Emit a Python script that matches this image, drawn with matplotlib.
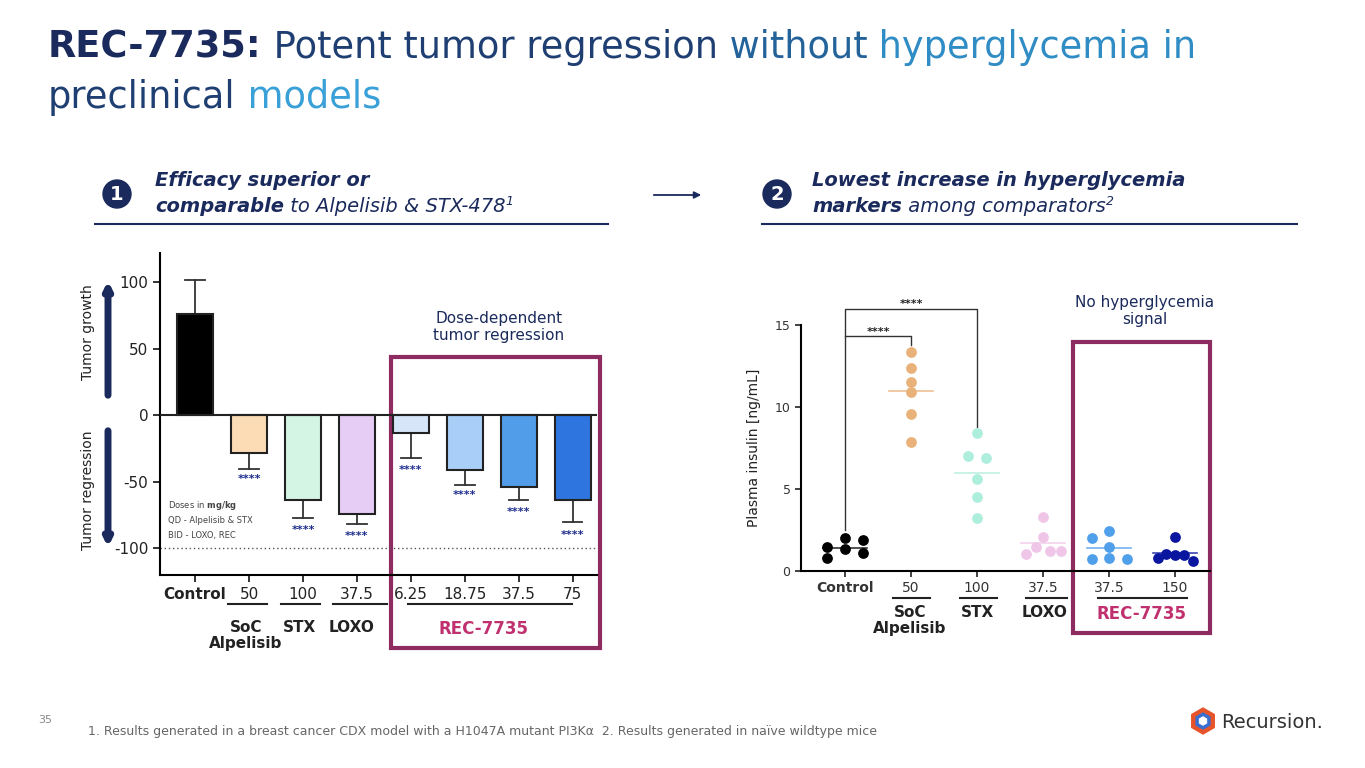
import numpy as np
import matplotlib
matplotlib.use('Agg')
import matplotlib.pyplot as plt
from matplotlib.patches import Rectangle, Circle, RegularPolygon

# ---- left chart: tumor growth (%) ----
bar_labels = ['Control', '50', '100', '37.5', '6.25', '18.75', '37.5', '75']
bar_values = [76, -28, -64, -74, -13, -41, -54, -64]
bar_err_to = [102, -40, -77, -82, -32, -52, -64, -80]
bar_colors = ['#000000', '#fbdcb4', '#d4f5e4', '#e6cdf5', '#d6e6f8', '#a9cff8', '#519de9', '#2f75e0']
star_y = [None, -48, -86, -91, -41, -60, -73, -90]

# ---- right chart: plasma insulin (ng/mL) ----
dot_labels = ['Control', '50', '100', '37.5', '37.5', '150']
dot_offsets = [
    [-0.27, -0.27, 0, 0, 0.27, 0.27],
    [0, 0, 0, 0, 0, 0],
    [0, -0.14, 0.14, 0, 0, 0],
    [0, 0, -0.1, -0.26, 0.1, 0.27],
    [-0.26, 0, 0, -0.26, 0, 0.27],
    [0, -0.26, -0.13, 0, 0.13, 0.27],
]
dot_values = [
    [1.48, 0.81, 1.99, 1.32, 1.89, 1.08],
    [13.35, 12.38, 11.54, 10.94, 9.55, 7.89],
    [8.39, 7.03, 6.87, 5.63, 4.49, 3.21],
    [3.27, 2.09, 1.48, 1.04, 1.24, 1.24],
    [1.99, 2.46, 1.44, 0.71, 0.77, 0.71],
    [2.09, 0.77, 1.04, 0.96, 0.96, 0.63],
]
dot_means = [1.4, 10.95, 5.96, 1.69, 1.38, 1.08]
dot_colors = ['#000000', '#e9b27a', '#aeeedc', '#f0c6e8', '#4f9fea', '#0b16a0']

NAVY = '#1b2a5c'
MAGENTA = '#8e2c62'
PINK = '#c0306e'

fig = plt.figure(figsize=(13.65, 7.68), dpi=100)

# overlay in pixel coords
ov = fig.add_axes([0, 0, 1, 1])
ov.set_xlim(0, 1365)
ov.set_ylim(768, 0)
ov.axis('off')


def px_axes(x0, y0, x1, y1):
    return fig.add_axes([x0 / 1365, 1 - y1 / 768, (x1 - x0) / 1365, (y1 - y0) / 768])


# ---- title ----
parts = [('REC-7735:', NAVY, 'bold'), (' Potent tumor regression', '#1f3f73', 'normal'),
         (' without', '#23639a', 'normal'), (' hyperglycemia in', '#2f8cc4', 'normal')]
prev = ov.text(48, 66, parts[0][0], color=parts[0][1], fontweight='bold', fontsize=26.5,
               va='bottom', ha='left')
for txt, col, w in parts[1:]:
    prev = ov.annotate(txt, xy=(1, 0), xycoords=prev, color=col, fontweight=w, fontsize=26.5,
                       va='bottom', ha='left')
prev = ov.text(48, 116, 'preclinical', color='#1f3f73', fontsize=26.5, va='bottom', ha='left')
ov.annotate(' models', xy=(1, 0), xycoords=prev, color='#3aa0d8', fontsize=26.5, va='bottom', ha='left')

# ---- section headers ----
for cx, num in [(117, '1'), (777, '2')]:
    ov.add_patch(Circle((cx, 194), 14, color=NAVY))
    ov.text(cx, 195, num, color='white', fontsize=14, fontweight='bold', ha='center', va='center')

ov.text(155, 180, 'Efficacy superior or', color=NAVY, fontsize=14, fontweight='bold', style='italic', va='center')
t = ov.text(155, 206, 'comparable', color=NAVY, fontsize=14, fontweight='bold', style='italic', va='center')
t = ov.annotate(' to Alpelisib & STX-478', xy=(1, 0.5), xycoords=t, color=NAVY, fontsize=14,
                style='italic', va='center')
ov.annotate('1', xy=(1, 0.75), xycoords=t, color=NAVY, fontsize=9, style='italic', va='center')

ov.text(812, 180, 'Lowest increase in hyperglycemia', color=NAVY, fontsize=14, fontweight='bold',
        style='italic', va='center')
t = ov.text(812, 206, 'markers', color=NAVY, fontsize=14, fontweight='bold', style='italic', va='center')
t = ov.annotate(' among comparators', xy=(1, 0.5), xycoords=t, color=NAVY, fontsize=14,
                style='italic', va='center')
ov.annotate('2', xy=(1, 0.75), xycoords=t, color=NAVY, fontsize=9, style='italic', va='center')

ov.plot([95, 608], [224, 224], color=NAVY, lw=1.5)
ov.plot([762, 1297], [224, 224], color=NAVY, lw=1.5)
ov.annotate('', xy=(704, 195), xytext=(651, 195),
            arrowprops=dict(arrowstyle='-|>', color=NAVY, lw=1.3, mutation_scale=10))

# ---- left chart ----
ax = px_axes(160, 253, 597, 575)
x = np.arange(len(bar_values))
ax.bar(x, bar_values, width=0.66, color=bar_colors, edgecolor='#222222', linewidth=1.5, zorder=3)
for xi, v, e in zip(x, bar_values, bar_err_to):
    ax.plot([xi, xi], [v, e], color='#333333', lw=1.3, zorder=2)
    ax.plot([xi - 0.18, xi + 0.18], [e, e], color='#333333', lw=1.3, zorder=2)
for xi, sy in zip(x, star_y):
    if sy is not None:
        ax.text(xi, sy, '****', color='#1a2a8a', fontsize=8, ha='center', va='center', fontweight='bold')
ax.axhline(0, color='#222222', lw=1.5, zorder=4)
ax.axhline(-100, color='#555555', lw=1, ls=(0, (1, 2)))
ax.set_xlim(-0.65, 7.45)
ax.set_ylim(-120, 122)
ax.set_yticks([-100, -50, 0, 50, 100])
ax.set_yticklabels(['-100', '-50', '0', '50', '100'])
ax.set_xticks(x)
ax.set_xticklabels(bar_labels)
ax.get_xticklabels()[0].set_fontweight('bold')
ax.tick_params(labelsize=11, colors='#222222', width=1.3, length=5)
for s in ['top', 'right']:
    ax.spines[s].set_visible(False)
for s in ['left', 'bottom']:
    ax.spines[s].set_linewidth(1.5)
ax.patch.set_alpha(0)
for yy, txt in [(-68, 'Doses in $\\bf{mg/kg}$'), (-79, 'QD - Alpelisib & STX'), (-90, 'BID - LOXO, REC')]:
    ax.text(-0.5, yy, txt, fontsize=6, color='#444444', va='center', ha='left', zorder=1)

# left group labels
for x0, x1 in [(228, 267), (281, 320), (333, 387), (408, 572)]:
    ov.plot([x0, x1], [604, 604], color='#222222', lw=1.5)
ov.text(246, 620, 'SoC\nAlpelisib', fontsize=11, fontweight='bold', ha='center', va='top', linespacing=1.1,
        color='#222222')
ov.text(300, 620, 'STX', fontsize=11, fontweight='bold', ha='center', va='top', color='#222222')
ov.text(352, 620, 'LOXO', fontsize=11, fontweight='bold', ha='center', va='top', color='#222222')
ov.text(484, 620, 'REC-7735', fontsize=12, fontweight='bold', ha='center', va='top', color=PINK)
ov.add_patch(Rectangle((391, 357), 209, 291, fill=False, ec=MAGENTA, lw=3))
ov.text(499, 327, 'Dose-dependent\ntumor regression', color=NAVY, fontsize=11, ha='center', va='center',
        linespacing=1.1)

# growth / regression arrows
ov.annotate('', xy=(108, 278), xytext=(108, 398),
            arrowprops=dict(arrowstyle='-|>', color=NAVY, lw=5, mutation_scale=10))
ov.annotate('', xy=(108, 550), xytext=(108, 428),
            arrowprops=dict(arrowstyle='-|>', color=NAVY, lw=5, mutation_scale=10))
ov.text(88, 332, 'Tumor growth', rotation=90, fontsize=10, ha='center', va='center', color='#222222')
ov.text(88, 490, 'Tumor regression', rotation=90, fontsize=10, ha='center', va='center', color='#222222')

# ---- right chart ----
ax2 = px_axes(801, 325, 1210, 571)
for i, (offs, vals) in enumerate(zip(dot_offsets, dot_values)):
    ax2.scatter(np.array(offs) + i, vals, s=60, color=dot_colors[i], zorder=3, clip_on=False, lw=0)
    ax2.plot([i - 0.33, i + 0.33], [dot_means[i]] * 2, color=dot_colors[i], lw=1.2, zorder=4,
             alpha=0.8)
ax2.set_xlim(-0.667, 5.53)
ax2.set_ylim(0, 15)
ax2.set_yticks([0, 5, 10, 15])
ax2.set_xticks(range(len(dot_labels)))
ax2.set_xticklabels(dot_labels)
ax2.get_xticklabels()[0].set_fontweight('bold')
ax2.get_xticklabels()[0].set_fontsize(12)
ax2.tick_params(labelsize=9, colors='#333333', width=1.3, length=4)
ax2.tick_params(axis='x', labelsize=10)
for s in ['top', 'right']:
    ax2.spines[s].set_visible(False)
for s in ['left', 'bottom']:
    ax2.spines[s].set_linewidth(1.5)
ax2.patch.set_alpha(0)
ax2.set_ylabel('Plasma insulin [ng/mL]', fontsize=10, color='#222222', labelpad=10)
# significance brackets
ax2.plot([0, 0, 1, 1], [2.5, 14.3, 14.3, 13.8], color='#333333', lw=1, clip_on=False)
ax2.plot([0, 0, 2, 2], [14.3, 16.0, 16.0, 8.8], color='#333333', lw=1, clip_on=False)
ax2.text(0.5, 14.6, '****', fontsize=8, ha='center', va='center', fontweight='bold', color='#222222')
ax2.text(1.0, 16.3, '****', fontsize=8, ha='center', va='center', fontweight='bold', color='#222222')

for x0, x1 in [(893, 930), (960, 997), (1026, 1067), (1098, 1187)]:
    ov.plot([x0, x1], [598, 598], color='#222222', lw=1.5)
ov.text(910, 605, 'SoC\nAlpelisib', fontsize=11, fontweight='bold', ha='center', va='top', linespacing=1.1,
        color='#222222')
ov.text(977, 605, 'STX', fontsize=11, fontweight='bold', ha='center', va='top', color='#222222')
ov.text(1045, 605, 'LOXO', fontsize=11, fontweight='bold', ha='center', va='top', color='#222222')
ov.text(1142, 605, 'REC-7735', fontsize=12, fontweight='bold', ha='center', va='top', color=PINK)
ov.add_patch(Rectangle((1073, 342), 137, 291, fill=False, ec=MAGENTA, lw=3))
ov.text(1145, 311, 'No hyperglycemia\nsignal', color=NAVY, fontsize=11, ha='center', va='center',
        linespacing=1.1)

# ---- footer ----
ov.text(38, 720, '35', fontsize=8, color='#888888', va='center')
ov.text(88, 731, '1. Results generated in a breast cancer CDX model with a H1047A mutant PI3K\u03b1  '
        '2. Results generated in na\u00efve wildtype mice', fontsize=9, color='#666666', va='center')
ov.add_patch(RegularPolygon((1203, 721), 6, radius=13, color='#e8542a'))
ov.add_patch(RegularPolygon((1203, 721), 6, radius=8, color='#3a6fd0'))
ov.add_patch(RegularPolygon((1203, 721), 6, radius=4, color='white'))
ov.text(1221, 722, 'Recursion.', fontsize=14, color='#333333', va='center')

fig.savefig('out.png', dpi=100)
